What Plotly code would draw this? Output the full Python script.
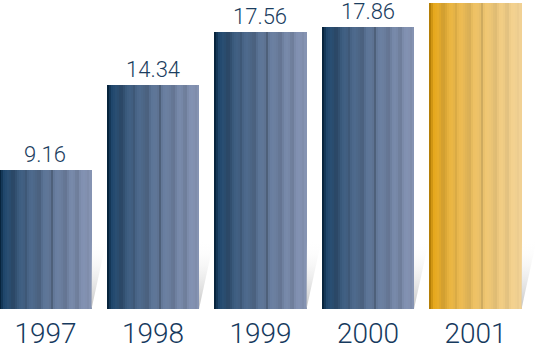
import plotly.graph_objects as go

years = ["1997", "1998", "1999", "2000", "2001"]
values = [9.16, 14.34, 17.56, 17.86, 19.33]
labels = ["9.16", "14.34", "17.56", "17.86", ""]

NAVY_DARK, NAVY_LIGHT = (12, 56, 94), (136, 150, 182)
GOLD_DARK, GOLD_LIGHT = (228, 160, 8), (244, 212, 150)

N = 46
BAR_W = 0.856
Y0, Y1 = 0.72, 19.51
# darkening per strip (visual stripe texture)
band = [0.35, 0.15, 0.0, 0, 0, 0.06, 0.14, 0.16, 0.1, 0.03, 0, 0, 0.04, 0.12, 0.03, 0,
        0, 0.04, 0.08, 0.12, 0.14, 0.05, 0, 0, 0.02, 0.06, 0.22, 0.04, 0, 0, 0.02, 0.05,
        0.1, 0.12, 0.05, 0, 0, 0.03, 0.09, 0.11, 0.03, 0, 0, 0.02, 0.05, 0.02]


def strip_color(dark, light, t, d):
    c = [dark[k] + (light[k] - dark[k]) * (t ** 0.6) for k in range(3)]
    c = [max(0, int(v * (1 - d))) for v in c]
    return "rgb(%d,%d,%d)" % tuple(c)


fig = go.Figure()

# soft shadows
for j, v in enumerate(values):
    xr = j + BAR_W / 2
    top = Y0 + 4.2
    fig.add_trace(go.Scatter(
        x=[xr, xr + 0.14, xr, xr], y=[top, top, Y0, top], mode="lines",
        line=dict(width=0), fill="toself", hoverinfo="skip", showlegend=False,
        fillgradient=dict(type="vertical",
                          colorscale=[[0, "rgba(195,195,195,1)"], [1, "rgba(255,255,255,0)"]]),
    ))

sw = BAR_W / N
for j, v in enumerate(values):
    dark, light = (GOLD_DARK, GOLD_LIGHT) if j == len(values) - 1 else (NAVY_DARK, NAVY_LIGHT)
    xs = [j - BAR_W / 2 + (i + 0.5) * sw for i in range(N)]
    cols = [strip_color(dark, light, i / (N - 1), band[i] * (0.6 if j == 4 else 1)) for i in range(N)]
    fig.add_trace(go.Bar(
        x=xs, y=[v] * N, width=[sw * 1.02] * N, marker=dict(color=cols, line=dict(width=0)),
        hoverinfo="skip", showlegend=False,
    ))

for j, (v, lab) in enumerate(zip(values, labels)):
    if lab:
        fig.add_annotation(x=j, y=v, text=lab, showarrow=False, yanchor="bottom", yshift=1,
                           font=dict(family="Roboto", size=22, weight=300, color="#1b3d60"))

fig.update_layout(
    width=540, height=350, margin=dict(l=0, r=0, t=0, b=37),
    paper_bgcolor="white", plot_bgcolor="white", barmode="overlay", bargap=0,
    xaxis=dict(range=[-0.423, 4.6], tickvals=list(range(len(years))), ticktext=years,
               showgrid=False, zeroline=False, showline=False, ticks="", ticklabelstandoff=5,
               tickfont=dict(family="Roboto", size=28, weight=300, color="#163a5e")),
    yaxis=dict(range=[Y0, Y1], visible=False, showgrid=False, zeroline=False),
)

fig.write_html("out.html")
